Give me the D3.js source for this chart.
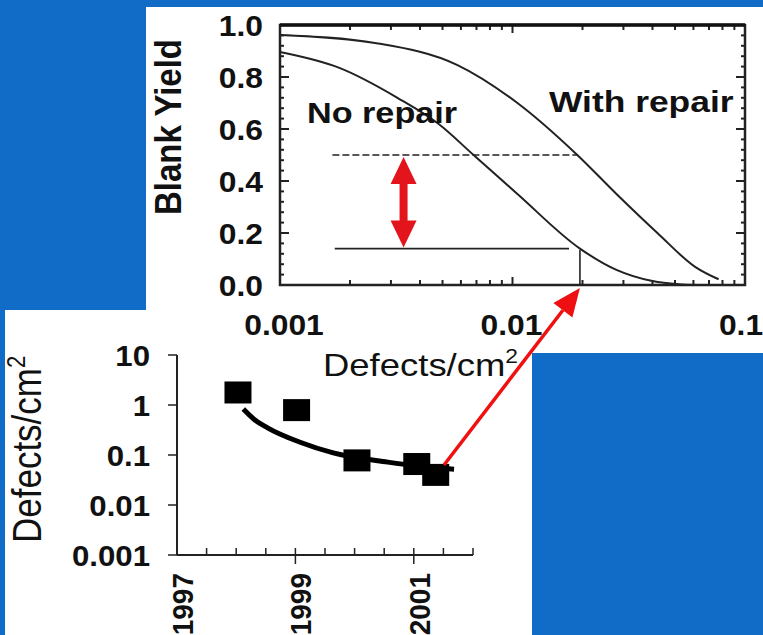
<!DOCTYPE html>
<html lang="en">
<head>
<meta charset="utf-8">
<style type="text/css">
  body { margin: 0; background: #106cc6; }
  svg { display: block; }
  text { font-family: "Liberation Sans", Arial, sans-serif; fill: #111; }
  .curve { fill: none; stroke: #222; stroke-width: 2px; }
  .frame { stroke: #222; stroke-width: 2px; }
</style>
<script src="https://d3js.org/d3.v7.min.js"></script>
</head>
<body>
<div id="AA"></div>
<script>
var width = 763, height = 635;

// ---- top chart: blank yield vs defect density ----
var yieldTicks = [0, 0.2, 0.4, 0.6, 0.8, 1.0];
var yieldTickLabels = ["0.0", "0.2", "0.4", "0.6", "0.8", "1.0"];
var densityTicksTop = [0.001, 0.01, 0.1];
var densityTickLabelsTop = ["0.001", "0.01", "0.1"];
var noRepairD = [0.001, 0.0018, 0.0032, 0.0048, 0.0068, 0.0105, 0.0195, 0.028, 0.040, 0.052, 0.062];
var noRepairY = [0.896, 0.835, 0.72, 0.62, 0.50, 0.35, 0.14, 0.058, 0.015, 0.003, 0.0];
var withRepairD = [0.001, 0.0026, 0.0058, 0.0105, 0.019, 0.028, 0.042, 0.061, 0.077];
var withRepairY = [0.962, 0.93, 0.846, 0.70, 0.50, 0.35, 0.20, 0.07, 0.022];
var dashedRef = {d0: 0.00168, d1: 0.0190, y: 0.5};
var solidRef = {d0: 0.00172, d1: 0.0175, y: 0.14};
var markD = 0.0195, markY = 0.135;
var gapArrowD = 0.0034;

// ---- bottom chart: defect density by year ----
var years = [1998.03, 1999.02, 2000.04, 2001.05, 2001.37];
var defects = [1.78, 0.79, 0.078, 0.066, 0.040];
var trendYears = [1998.12, 1998.3, 1998.53, 1999.08, 1999.64, 2000.56, 2001.07, 2001.68];
var trendDefects = [0.83, 0.52, 0.35, 0.18, 0.11, 0.072, 0.060, 0.052];
var densityTicks = [0.001, 0.01, 0.1, 1, 10];
var densityTickLabels = ["0.001", "0.01", "0.1", "1", "10"];
var yearTicks = [1997, 1999, 2001];
var arrowFrom = {year: 2001.51, density: 0.063};

var svg = d3.select("#AA").append("svg")
  .attr("width", width).attr("height", height);

// panels
svg.append("rect").attr("x", 0).attr("y", 0).attr("width", width).attr("height", height).attr("fill", "#106cc6");
svg.append("rect").attr("x", 5).attr("y", 310).attr("width", 527).attr("height", 325).attr("fill", "#fff");
svg.append("rect").attr("x", 146).attr("y", 7).attr("width", 617).attr("height", 346).attr("fill", "#fff");

// stretched text helper (source picture is wider than tall)
function label(g, str, x, y, size, weight, anchor, rot, sx) {
  var t = g.append("text")
    .attr("transform", "translate(" + x + "," + y + ") scale(" + (sx || 1) + ",1)" + (rot ? " rotate(" + rot + ")" : ""))
    .style("font-size", size + "px")
    .style("font-weight", weight)
    .attr("text-anchor", anchor);
  t.text(str);
  return t;
}

// ========== top chart ==========
var xT = d3.scaleLog().domain([0.001, 0.1]).range([280, 745]);
var yT = d3.scaleLinear().domain([0, 1]).range([285, 25]);
var topG = svg.append("g");

// minor/major ticks on the frame, inward
var yMinor = d3.range(0, 1.0001, 0.04);
yMinor.forEach(function(v) {
  var major = Math.abs(v * 5 - Math.round(v * 5)) < 1e-6;
  var len = major ? 9 : 4;
  topG.append("line").attr("class", "frame").attr("stroke-width", 1.5)
    .attr("x1", xT(0.001)).attr("x2", xT(0.001) + len).attr("y1", yT(v)).attr("y2", yT(v));
  topG.append("line").attr("class", "frame").attr("stroke-width", 1.5)
    .attr("x1", xT(0.1)).attr("x2", xT(0.1) - len).attr("y1", yT(v)).attr("y2", yT(v));
});
var xMinor = [];
[0.001, 0.01].forEach(function(dec) { for (var k = 1; k <= 9; k++) xMinor.push(dec * k); });
xMinor.push(0.1);
xMinor.forEach(function(v) {
  var major = densityTicksTop.some(function(t) { return Math.abs(t - v) < 1e-9; });
  var len = major ? 8 : 5;
  topG.append("line").attr("class", "frame").attr("stroke-width", 1.5)
    .attr("x1", xT(v)).attr("x2", xT(v)).attr("y1", yT(0)).attr("y2", yT(0) - len);
  topG.append("line").attr("class", "frame").attr("stroke-width", 1.5)
    .attr("x1", xT(v)).attr("x2", xT(v)).attr("y1", yT(1)).attr("y2", yT(1) + len);
});

// frame
topG.append("rect").attr("x", xT(0.001)).attr("y", yT(1)).attr("width", xT(0.1) - xT(0.001)).attr("height", yT(0) - yT(1))
  .attr("fill", "none").attr("stroke", "#222").attr("stroke-width", 2.5);
topG.append("line").attr("x1", xT(0.001)).attr("x2", xT(0.1)).attr("y1", yT(1)).attr("y2", yT(1))
  .attr("stroke", "#111").attr("stroke-width", 3.5);

// curves
var lineT = d3.line().curve(d3.curveMonotoneX)
  .x(function(d) { return xT(d[0]); }).y(function(d) { return yT(d[1]); });
topG.append("path").attr("class", "curve").attr("d", lineT(d3.zip(noRepairD, noRepairY)));
topG.append("path").attr("class", "curve").attr("d", lineT(d3.zip(withRepairD, withRepairY)));

// reference lines
topG.append("line").attr("x1", xT(dashedRef.d0)).attr("x2", xT(dashedRef.d1))
  .attr("y1", yT(dashedRef.y)).attr("y2", yT(dashedRef.y))
  .attr("stroke", "#222").attr("stroke-width", 1.5).attr("stroke-dasharray", "7,3");
topG.append("line").attr("x1", xT(solidRef.d0)).attr("x2", xT(solidRef.d1))
  .attr("y1", yT(solidRef.y)).attr("y2", yT(solidRef.y))
  .attr("stroke", "#222").attr("stroke-width", 1.6);
topG.append("line").attr("x1", xT(markD)).attr("x2", xT(markD))
  .attr("y1", yT(markY)).attr("y2", yT(0))
  .attr("stroke", "#222").attr("stroke-width", 1.6);

// red double arrow
(function() {
  var cx = xT(gapArrowD), y1 = yT(dashedRef.y) + 2, y2 = yT(solidRef.y) - 1;
  var hh = 27, hw = 13, sw = 4;
  var pts = [[cx, y1], [cx + hw, y1 + hh], [cx + sw, y1 + hh], [cx + sw, y2 - hh], [cx + hw, y2 - hh],
             [cx, y2], [cx - hw, y2 - hh], [cx - sw, y2 - hh], [cx - sw, y1 + hh], [cx - hw, y1 + hh]];
  topG.append("path").attr("d", "M" + pts.join("L") + "Z").attr("fill", "#e3141c");
})();

// labels
yieldTicks.forEach(function(v, i) {
  label(topG, yieldTickLabels[i], 263, yT(v) + 11, 30, "bold", "end", 0, 1.06);
});
densityTicksTop.forEach(function(v, i) {
  var off = [4, -1, -4][i];
  label(topG, densityTickLabelsTop[i], xT(v) + off, 335, 30, "bold", "middle", 0, 1.06);
});
label(topG, "Blank Yield", 181, 127, 33, "bold", "middle", -90, 1.14);
label(topG, "No repair", 307, 123, 30, "bold", "start", 0, 1.14);
label(topG, "With repair", 549, 112, 30, "bold", "start", 0, 1.18);
var dl = label(svg, "Defects/cm", 323, 376, 32, "normal", "start", 0, 1.14);
dl.append("tspan").attr("dy", -13).style("font-size", "20px").text("2");

// ========== bottom chart ==========
var xB = d3.scaleLinear().domain([1997, 2002]).range([177, 473]);
var yB = d3.scaleLog().domain([0.001, 10]).range([555, 355]);
var bot = svg.append("g");

bot.append("line").attr("x1", xB(1997)).attr("x2", xB(1997)).attr("y1", yB(10)).attr("y2", yB(0.001))
  .attr("stroke", "#222").attr("stroke-width", 2);
bot.append("line").attr("x1", xB(1997)).attr("x2", xB(2002)).attr("y1", yB(0.001)).attr("y2", yB(0.001))
  .attr("stroke", "#222").attr("stroke-width", 2);
densityTicks.forEach(function(v, i) {
  bot.append("line").attr("x1", xB(1997) - 9).attr("x2", xB(1997)).attr("y1", yB(v)).attr("y2", yB(v))
    .attr("stroke", "#222").attr("stroke-width", 1.5);
  label(bot, densityTickLabels[i], 150, yB(v) + 11, 30, "bold", "end", 0, 1.04);
});
d3.range(1997.5, 2002.01, 0.5).forEach(function(v) {
  var major = yearTicks.indexOf(v) >= 0;
  bot.append("line").attr("x1", xB(v)).attr("x2", xB(v))
    .attr("y1", yB(0.001) - 7).attr("y2", yB(0.001) + (major ? 9 : 0))
    .attr("stroke", "#222").attr("stroke-width", 1.5);
});
yearTicks.forEach(function(v) {
  label(bot, String(v), xB(v) + 16, 573, 28, "bold", "end", -90, 1.05);
});
label(bot, "Defects/cm", 41, 543, 35, "normal", "start", -90, 1.14)
  .append("tspan").attr("dy", -14).style("font-size", "22px").text("2");

// trend line and points
var lineB = d3.line().curve(d3.curveMonotoneX)
  .x(function(d) { return xB(d[0]); }).y(function(d) { return yB(d[1]); });
bot.append("path").attr("d", lineB(d3.zip(trendYears, trendDefects)))
  .attr("fill", "none").attr("stroke", "#000").attr("stroke-width", 5);
bot.selectAll("rect.pt").data(d3.zip(years, defects)).enter().append("rect")
  .attr("class", "pt")
  .attr("x", function(d) { return xB(d[0]) - 13.5; })
  .attr("y", function(d) { return yB(d[1]) - 11; })
  .attr("width", 27).attr("height", 22).attr("fill", "#000");

// red arrow linking bottom point to top axis
(function() {
  var x1 = xB(arrowFrom.year), y1 = yB(arrowFrom.density);
  var x2 = xT(markD), y2 = yT(0) + 3;
  var ang = Math.atan2(y2 - y1, x2 - x1), hl = 28, hw = 12;
  var bx = x2 - hl * Math.cos(ang), by = y2 - hl * Math.sin(ang);
  svg.append("line").attr("x1", x1).attr("y1", y1).attr("x2", bx).attr("y2", by)
    .attr("stroke", "#f01010").attr("stroke-width", 3.5);
  var px = -Math.sin(ang) * hw, py = Math.cos(ang) * hw;
  svg.append("path").attr("d", "M" + x2 + "," + y2 + "L" + (bx + px) + "," + (by + py) + "L" + (bx - px) + "," + (by - py) + "Z")
    .attr("fill", "#ee1010");
})();
</script>
</body>
</html>
